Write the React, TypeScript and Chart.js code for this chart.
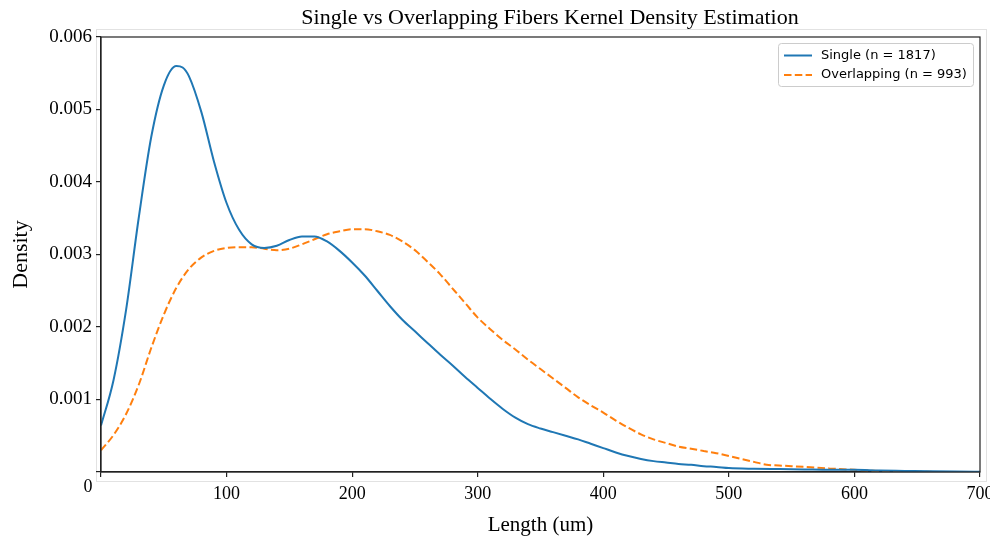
import React, { useEffect, useRef } from "react";
import { Chart, registerables } from "chart.js";

Chart.register(...registerables);

const chartTitle = "Single vs Overlapping Fibers Kernel Density Estimation";
const xAxisTitle = "Length (um)";
const yAxisTitle = "Density";

const singleLabel = "Single (n = 1817)";
const overlapLabel = "Overlapping (n = 993)";

const singleLength = [
  0, 10, 20, 30, 40, 50, 60, 65, 70, 80, 90, 100, 110, 120, 130, 140, 150, 160, 170, 180, 190, 200,
  210, 220, 230, 240, 250, 260, 270, 280, 290, 300, 310, 320, 330, 340, 350, 360, 370, 380, 390, 400,
  410, 420, 430, 440, 450, 460, 470, 480, 490, 500, 520, 540, 560, 580, 600, 620, 640, 660, 680, 700,
];
const singleDensity = [
  0.00064, 0.00127, 0.00224, 0.0035, 0.00462, 0.00533, 0.0056, 0.00558, 0.00546, 0.00496, 0.00428,
  0.00371, 0.00334, 0.00314, 0.00309, 0.00312, 0.0032, 0.00325, 0.00325, 0.00318, 0.00305, 0.00289,
  0.00271, 0.0025, 0.00229, 0.0021, 0.00194, 0.00178, 0.00162, 0.00147, 0.00131, 0.00116, 0.00101,
  0.00087, 0.00075, 0.00066, 0.0006, 0.00055, 0.0005, 0.00045, 0.00039, 0.00033, 0.00027, 0.00022,
  0.00018, 0.00015, 0.00013, 0.00011, 0.0001, 0.00008, 0.00007, 0.000055, 0.000045, 0.00004, 0.000035,
  0.00003, 0.00003, 0.00002, 0.000015, 0.00001, 0.000006, 0.000003,
];

const overlapLength = [
  0, 10, 20, 30, 40, 50, 60, 70, 80, 90, 100, 110, 120, 130, 140, 150, 160, 170, 180, 190, 200, 210,
  220, 230, 240, 250, 260, 270, 280, 290, 300, 310, 320, 330, 340, 350, 360, 370, 380, 390, 400, 410,
  420, 430, 440, 450, 460, 470, 480, 490, 500, 510, 520, 530, 540, 550, 560, 580, 600, 620, 640, 660, 670,
];
const overlapDensity = [
  0.0003, 0.00051, 0.0008, 0.0012, 0.00171, 0.00217, 0.00254, 0.0028, 0.00296, 0.00305, 0.00309,
  0.0031, 0.0031, 0.00308, 0.00306, 0.00308, 0.00314, 0.00321, 0.00328, 0.00332, 0.00335, 0.00335,
  0.00332, 0.00327, 0.00318, 0.00306, 0.0029, 0.00273, 0.00253, 0.00233, 0.00213, 0.00197, 0.00182,
  0.00169, 0.00155, 0.00142, 0.00129, 0.00116, 0.00103, 0.00092, 0.00082, 0.00071, 0.00061, 0.00052,
  0.00045, 0.0004, 0.00035, 0.00032, 0.00029, 0.00026, 0.00022, 0.00018, 0.00014, 0.0001, 0.00009,
  0.00008, 0.00007, 0.00005, 0.00003, 0.000014, 0.000006, 0.000002, 0.000001,
];

const xMin = 0;
const xMax = 700;
const xStep = 100;
const yMin = 0;
const yMax = 0.006;
const yStep = 0.001;

const BLUE = "#1f77b4";
const ORANGE = "#ff7f0e";
const DASH = [7.5, 3.3];
const SERIF = '"Liberation Serif", "Times New Roman", serif';
const SANS = '"DejaVu Sans", sans-serif';

const decorPlugin = {
  id: "decor",
  beforeDraw(chart: any) {
    const ctx = chart.ctx;
    const { left, top, right, bottom } = chart.chartArea;
    ctx.save();
    ctx.fillStyle = "#ffffff";
    ctx.fillRect(0, 0, chart.width, chart.height);
    ctx.strokeStyle = "#e2e2e2";
    ctx.lineWidth = 1;
    ctx.strokeRect(left - 4.5, top - 7.5, right - left + 11, bottom - top + 17);
    ctx.restore();
  },
  afterDraw(chart: any) {
    const ctx = chart.ctx;
    const { left, top, right, bottom } = chart.chartArea;
    ctx.save();
    // frame
    ctx.strokeStyle = "#222";
    ctx.lineWidth = 1.2;
    ctx.strokeRect(left, top, right - left, bottom - top);
    // title
    ctx.fillStyle = "#000";
    ctx.font = `22px ${SERIF}`;
    ctx.textAlign = "center";
    ctx.textBaseline = "middle";
    ctx.fillText(chartTitle, 550, 18);
    // corner zero label
    ctx.font = `18px ${SERIF}`;
    ctx.fillText(String(xMin), left - 13, bottom + 15);
    // legend
    const bx = 778.5, by = 43.5, bw = 195, bh = 43;
    ctx.fillStyle = "rgba(255,255,255,0.85)";
    ctx.strokeStyle = "#cccccc";
    ctx.lineWidth = 1;
    ctx.beginPath();
    (ctx as any).roundRect(bx, by, bw, bh, 3);
    ctx.fill();
    ctx.stroke();
    const rows = chart.data.datasets.map((d: any, i: number) => ({
      label: d.label,
      color: d.borderColor,
      dash: d.borderDash || [],
      y: 55.5 + i * 19.5,
    }));
    ctx.font = `13px ${SANS}`;
    ctx.textAlign = "left";
    rows.forEach((r: any) => {
      ctx.strokeStyle = r.color;
      ctx.lineWidth = 2;
      ctx.setLineDash(r.dash);
      ctx.beginPath();
      ctx.moveTo(784, r.y);
      ctx.lineTo(812, r.y);
      ctx.stroke();
      ctx.setLineDash([]);
      ctx.fillStyle = "#000";
      ctx.fillText(r.label, 821, r.y);
    });
    ctx.restore();
  },
};

export default function App() {
  const ref = useRef<HTMLCanvasElement>(null);
  useEffect(() => {
    if (!ref.current) return;
    const chart = new Chart(ref.current, {
      type: "line",
      data: {
        datasets: [
          {
            label: singleLabel,
            data: singleLength.map((x, i) => ({ x, y: singleDensity[i] })),
            borderColor: BLUE,
            backgroundColor: BLUE,
            borderWidth: 2,
            pointRadius: 0,
            cubicInterpolationMode: "monotone",
            fill: false,
          },
          {
            label: overlapLabel,
            data: overlapLength.map((x, i) => ({ x, y: overlapDensity[i] })),
            borderColor: ORANGE,
            backgroundColor: ORANGE,
            borderWidth: 2,
            borderDash: DASH,
            pointRadius: 0,
            cubicInterpolationMode: "monotone",
            fill: false,
          },
        ],
      },
      options: {
        responsive: false,
        animation: false,
        layout: { padding: { left: 0, right: 10, top: 37, bottom: 0 } },
        plugins: {
          legend: { display: false },
          title: { display: false },
          tooltip: { enabled: false },
        },
        scales: {
          x: {
            type: "linear",
            min: xMin,
            max: xMax,
            ticks: {
              stepSize: xStep,
              color: "#000",
              font: { family: SERIF, size: 18 },
              padding: 6,
              maxRotation: 0,
              callback: (v: any) => (v === xMin ? "" : String(v)),
            },
            grid: { display: true, drawOnChartArea: false, drawTicks: true, tickLength: 5, color: "#222", lineWidth: 1.2 },
            border: { display: true, color: "#222", width: 1.2 },
            title: {
              display: true,
              text: xAxisTitle,
              color: "#000",
              font: { family: SERIF, size: 21 },
              padding: { top: 0, bottom: 0 },
            },
            afterFit: (s: any) => {
              s.height = 66;
              s.paddingLeft = 0;
              s.paddingRight = 0;
            },
          },
          y: {
            type: "linear",
            min: yMin,
            max: yMax,
            ticks: {
              stepSize: yStep,
              color: "#000",
              font: { family: SERIF, size: 19 },
              padding: 4,
              callback: (v: any) => (v === yMin ? "" : Number(v).toFixed(3)),
            },
            grid: { display: true, drawOnChartArea: false, drawTicks: true, tickLength: 5, color: "#222", lineWidth: 1.2 },
            border: { display: true, color: "#222", width: 1.2 },
            title: {
              display: true,
              text: yAxisTitle,
              color: "#000",
              font: { family: SERIF, size: 22 },
              padding: { top: 8, bottom: 0 },
            },
            afterFit: (s: any) => {
              s.width = 101;
              s.paddingTop = 0;
              s.paddingBottom = 0;
            },
          },
        },
      },
      plugins: [decorPlugin],
    });
    return () => chart.destroy();
  }, []);
  return (
    <div style={{ position: "absolute", left: 0, top: 0, width: 990, height: 538 }}>
      <canvas ref={ref} width={990} height={538} style={{ display: "block" }} />
    </div>
  );
}
